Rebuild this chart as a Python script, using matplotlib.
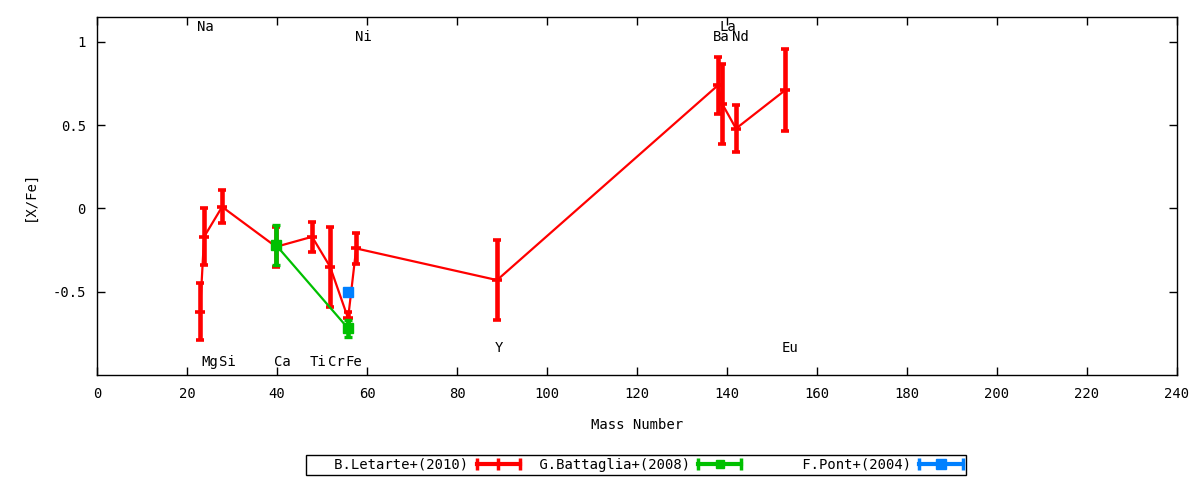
import matplotlib
matplotlib.use("Agg")
import matplotlib.pyplot as plt
from matplotlib.legend_handler import HandlerBase
from matplotlib.lines import Line2D

plt.rcParams['font.family'] = ['DejaVu Sans Mono']
plt.rcParams['font.size'] = 10

# B.Letarte+(2010)
let_mass = [22.9, 23.8, 27.8, 39.8, 47.8, 51.8, 55.8, 57.6, 88.9, 138.0, 138.9, 142.0, 152.9]
let_val = [-0.62, -0.17, 0.01, -0.23, -0.17, -0.35, -0.66, -0.24, -0.43, 0.74, 0.63, 0.48, 0.71]
let_err = [0.17, 0.17, 0.10, 0.12, 0.09, 0.24, 0.04, 0.095, 0.24, 0.17, 0.24, 0.14, 0.245]

# G.Battaglia+(2008)
bat_mass = [39.8, 55.8]
bat_val = [-0.22, -0.72]
bat_err = [0.12, 0.05]

# F.Pont+(2004)
pont_mass = [55.8]
pont_val = [-0.50]
pont_err = [0.0]

# element names drawn on the plot
elem_names = ['Na', 'Ni', 'La', 'Ba', 'Nd', 'Mg', 'Si', 'Ca', 'Ti', 'Cr', 'Fe', 'Y', 'Eu']
elem_x = [24.0, 59.1, 140.2, 138.7, 142.9, 25.1, 28.9, 41.1, 49.1, 53.1, 57.1, 89.3, 154.0]
elem_y = [1.09, 1.03, 1.09, 1.03, 1.03, -0.92, -0.92, -0.92, -0.92, -0.92, -0.92, -0.84, -0.84]

RED, GREEN, BLUE = '#ff0000', '#00c000', '#0080ff'


class ErrHandler(HandlerBase):
    # gnuplot-like key sample: line with caps and a point in the middle
    def create_artists(self, legend, orig_handle, xdescent, ydescent,
                       width, height, fontsize, trans):
        c = orig_handle.get_color()
        y = height / 2 - ydescent
        x0, x1 = -xdescent, width - xdescent
        bar = Line2D([x0, x1], [y, y], color=c, lw=3)
        caps = Line2D([x0, x1], [y, y], ls='none', marker='|', ms=8, mew=2.5, color=c)
        mid = Line2D([(x0 + x1) / 2], [y], ls='none', marker=orig_handle.get_marker(),
                     ms=orig_handle.get_markersize(), mew=orig_handle.get_markeredgewidth(),
                     color=c)
        for a in (bar, caps, mid):
            a.set_transform(trans)
        return [bar, caps, mid]


fig = plt.figure(figsize=(12, 4.8), dpi=100)
ax = fig.add_axes([97 / 1200, 1 - 375 / 480, 1080 / 1200, 358 / 480])

ax.errorbar(let_mass, let_val, yerr=let_err, color=RED, lw=1.6, elinewidth=3.3,
            capsize=3, capthick=2.4, marker='_', ms=7, mew=2.6, zorder=3)
ax.errorbar(bat_mass, bat_val, yerr=bat_err, color=GREEN, lw=1.6, elinewidth=3.3,
            capsize=3, capthick=2.4, marker='s', ms=7, zorder=4)
ax.errorbar(pont_mass, pont_val, yerr=pont_err, color=BLUE, lw=1.6, elinewidth=3.3,
            capsize=0, marker='s', ms=7.5, ls='none', zorder=5)

for name, x, y in zip(elem_names, elem_x, elem_y):
    ax.text(x, y, name, ha='center', va='center')

ax.set_xlim(0, 240)
ax.set_ylim(-1, 1.15)
ax.set_xticks(range(0, 241, 20))
ax.set_yticks([-0.5, 0, 0.5, 1])
ax.set_yticklabels(['-0.5', '0', '0.5', '1'])
ax.tick_params(direction='in', length=6, width=1, top=True, right=True)
ax.tick_params(axis='x', pad=9)
ax.tick_params(axis='y', pad=8)
for s in ax.spines.values():
    s.set_linewidth(1)

ax.set_xlabel('Mass Number', labelpad=12)
ax.set_ylabel('[X/Fe]', labelpad=11)

handles = [
    Line2D([], [], color=RED, marker='|', ms=8, mew=2.5),
    Line2D([], [], color=GREEN, marker='s', ms=6, mew=1),
    Line2D([], [], color=BLUE, marker='s', ms=7, mew=1),
]
labels = [s.rjust(19) for s in ['B.Letarte+(2010)', 'G.Battaglia+(2008)', 'F.Pont+(2004)']]
leg = fig.legend(handles, labels, handler_map={Line2D: ErrHandler()},
                 loc='center', bbox_to_anchor=(306 / 1200, 5 / 480, 660 / 1200, 20 / 480),
                 mode='expand', ncol=3, markerfirst=False, fancybox=False,
                 framealpha=1, edgecolor='black', borderaxespad=0, borderpad=0.25,
                 handlelength=3.1, handletextpad=0.6, columnspacing=0.5)
leg.get_frame().set_linewidth(1)

fig.savefig('out.png', dpi=100)
